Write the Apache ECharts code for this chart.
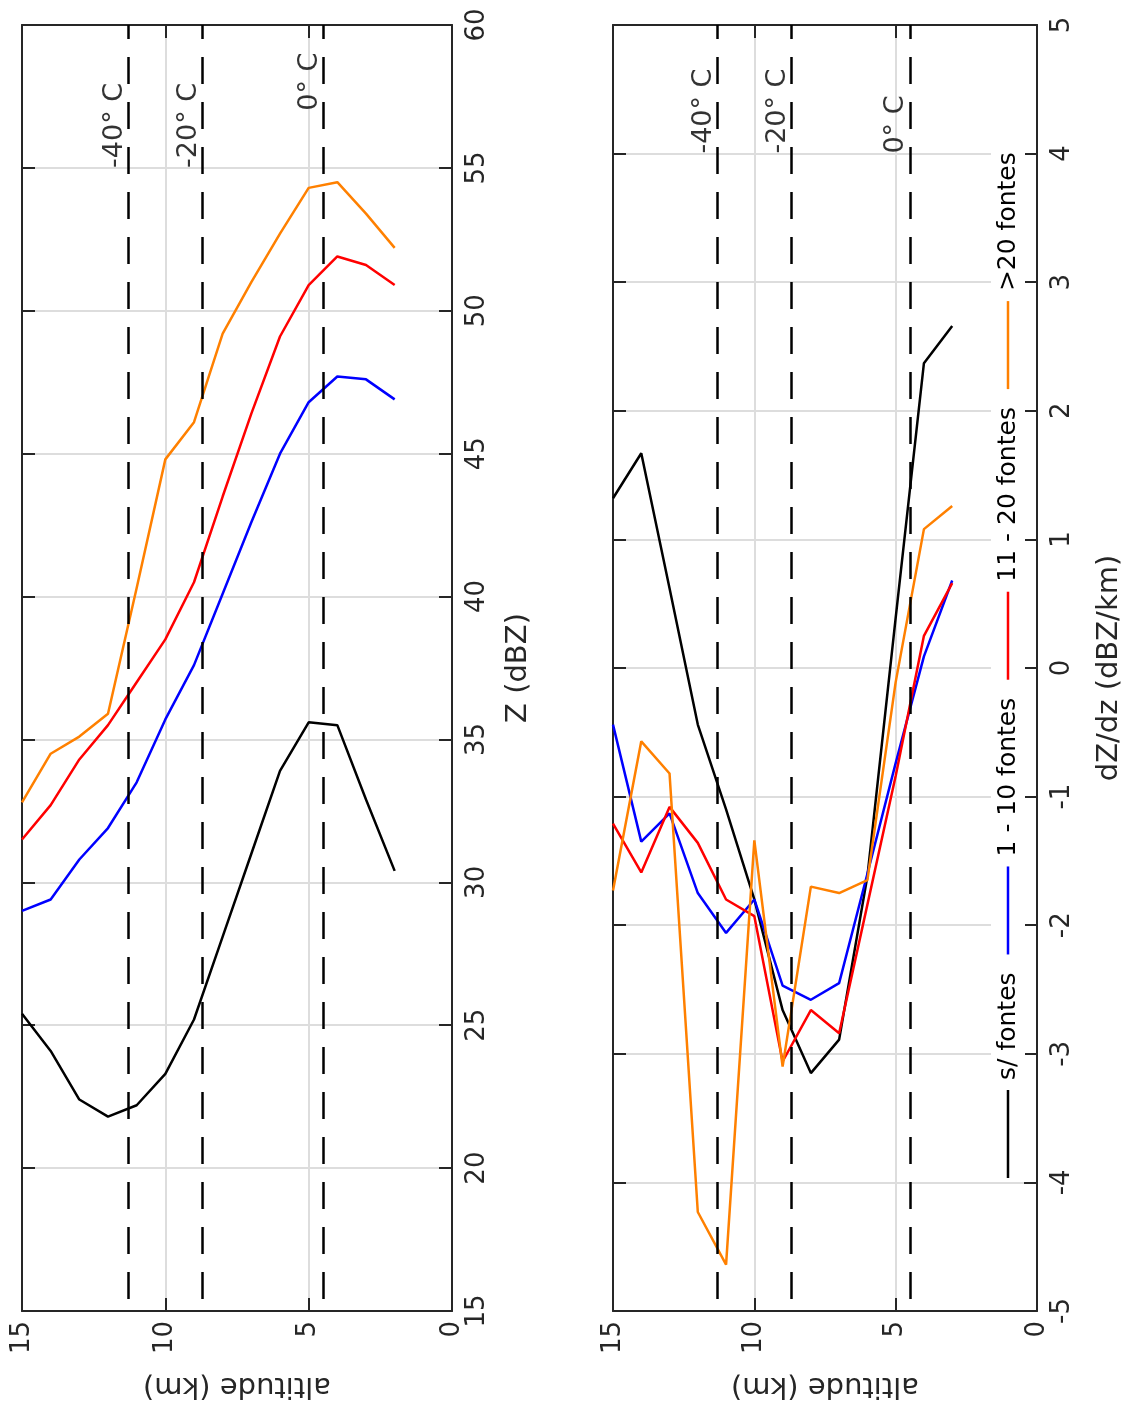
<!DOCTYPE html>
<html>
<head>
<meta charset="utf-8">
<script src="https://cdn.jsdelivr.net/npm/echarts@6/dist/echarts.min.js"></script>
<style>
  html, body { margin: 0; background: #fff; }
  #chart { width: 1125px; height: 1406px; }
</style>
</head>
<body>
<div id="chart"></div>
<script>
// altitudes (km)
var altTop = [15, 14, 13, 12, 11, 10, 9, 8, 7, 6, 5, 4, 3, 2];
var altBottom = [15, 14, 13, 12, 11, 10, 9, 8, 7, 6, 5, 4, 3];

// Z (dBZ) - painel de cima
var zSemFontes = [25.4, 24.1, 22.4, 21.8, 22.2, 23.3, 25.2, 28.1, 31.0, 33.9, 35.6, 35.5, 32.9, 30.4];
var z1a10 = [29.0, 29.4, 30.8, 31.9, 33.5, 35.7, 37.6, 40.1, 42.6, 45.0, 46.8, 47.7, 47.6, 46.9];
var z11a20 = [31.5, 32.7, 34.3, 35.5, 37.0, 38.5, 40.5, 43.5, 46.4, 49.1, 50.9, 51.9, 51.6, 50.9];
var zMais20 = [32.8, 34.5, 35.1, 35.9, 40.3, 44.8, 46.1, 49.2, 51.0, 52.7, 54.3, 54.5, 53.4, 52.2];

// dZ/dz (dBZ/km) - painel de baixo
var dSemFontes = [1.32, 1.67, 0.62, -0.44, -1.10, -1.80, -2.66, -3.15, -2.89, -1.62, 0.39, 2.37, 2.66];
var d1a10 = [-0.44, -1.35, -1.13, -1.75, -2.06, -1.80, -2.47, -2.58, -2.45, -1.60, -0.74, 0.09, 0.68];
var d11a20 = [-1.21, -1.59, -1.08, -1.36, -1.80, -1.93, -3.06, -2.66, -2.84, -1.84, -0.84, 0.25, 0.66];
var dMais20 = [-1.73, -0.57, -0.82, -4.23, -4.64, -1.34, -3.10, -1.70, -1.75, -1.65, -0.11, 1.08, 1.26];

// isotermas
var isoAlt = [11.3, 8.7, 4.5];
var isoNames = ['-40° C', '-20° C', '0° C'];
var isoPosTop = [55, 55, 57];
var isoPosBottom = [4, 4, 4];

var legendNames = ['s/ fontes', '1 - 10 fontes', '11 - 20 fontes', '>20 fontes'];
var colors = ['#000000', '#0000ff', '#ff0000', '#ff8000'];

var axisColor = '#262626';
var font = 'DejaVu Sans';

function pairs(xs, ys) {
  return xs.map(function (x, i) { return [x, ys[i]]; });
}

function altAxis(g, main) {
  return {
    type: 'value', gridIndex: g, min: 0, max: 15, interval: 5, inverse: true,
    position: main ? 'bottom' : 'top',
    axisLine: { show: true, onZero: false, lineStyle: { color: axisColor, width: 2 } },
    axisTick: { show: true, inside: true, length: 13, lineStyle: { color: axisColor, width: 2 } },
    axisLabel: { show: main, rotate: 90, margin: 10, color: axisColor, fontSize: 26, fontFamily: font },
    splitLine: { show: main, lineStyle: { color: '#dddddd', width: 2 } },
    name: main ? 'altitude (km)' : '', nameLocation: 'middle', nameGap: 60, nameRotate: 180,
    nameTextStyle: { color: axisColor, fontSize: 29, fontFamily: font }
  };
}

function valAxis(g, main, min, max, interval, name, gap) {
  return {
    type: 'value', gridIndex: g, min: min, max: max, interval: interval,
    position: main ? 'right' : 'left',
    axisLine: { show: true, onZero: false, lineStyle: { color: axisColor, width: 2 } },
    axisTick: { show: true, inside: true, length: 13, lineStyle: { color: axisColor, width: 2 } },
    axisLabel: { show: main, rotate: 90, margin: 12, color: axisColor, fontSize: 26, fontFamily: font },
    splitLine: { show: main, lineStyle: { color: '#dddddd', width: 2 } },
    name: main ? name : '', nameLocation: 'middle', nameGap: gap, nameRotate: 90,
    nameTextStyle: { color: axisColor, fontSize: 29, fontFamily: font }
  };
}

function curve(name, g, xs, ys, color) {
  return {
    name: name, type: 'line', xAxisIndex: g * 2, yAxisIndex: g * 2,
    data: pairs(xs, ys), showSymbol: false, symbol: 'none',
    lineStyle: { color: color, width: 2.5 }, itemStyle: { color: color }
  };
}

function isotermas(g, pos) {
  return {
    type: 'scatter', xAxisIndex: g * 2, yAxisIndex: g * 2, silent: true,
    symbolSize: 0.1, itemStyle: { color: 'transparent' },
    data: pairs(isoAlt, pos),
    label: {
      show: true, position: 'inside', rotate: 90, align: 'left', verticalAlign: 'bottom',
      color: '#000', fontSize: 27, fontFamily: font,
      formatter: function (p) { return isoNames[p.dataIndex]; }
    },
    markLine: {
      silent: true, symbol: ['none', 'none'], animation: false,
      label: { show: false },
      lineStyle: { color: '#000', width: 2.5, type: [27, 18], dashOffset: -12 },
      data: isoAlt.map(function (a) { return { xAxis: a }; })
    }
  };
}

// legenda girada (texto na vertical), com fundo branco como no matlab
var ctx = document.createElement('canvas').getContext('2d');
ctx.font = '25px "DejaVu Sans"';
var legendItems = [];
var pos = 0;
legendNames.forEach(function (n, i) {
  legendItems.push({ type: 'line', z: 102, shape: { x1: pos, y1: 0, x2: pos + 88, y2: 0 },
    style: { stroke: colors[i], lineWidth: 2.5 } });
  legendItems.push({ type: 'text', z: 102, x: pos + 98, y: 0,
    style: { text: n, fontSize: 25, fontFamily: font, fill: '#000', verticalAlign: 'middle' } });
  pos += 88 + 10 + ctx.measureText(n).width + 18;
});
legendItems.unshift({ type: 'rect', z: 101, shape: { x: -4, y: -17, width: pos - 12, height: 34 },
  style: { fill: '#ffffff' } });

var chart = echarts.init(document.getElementById('chart'));
chart.setOption({
  animation: false,
  backgroundColor: '#fff',
  grid: [
    { left: 22, top: 25, width: 430, height: 1286 },
    { left: 613, top: 25, width: 426, height: 1286 }
  ],
  xAxis: [altAxis(0, true), altAxis(0, false), altAxis(1, true), altAxis(1, false)],
  yAxis: [
    valAxis(0, true, 15, 60, 5, 'Z (dBZ)', 52),
    valAxis(0, false, 15, 60, 5, '', 0),
    valAxis(1, true, -5, 5, 1, 'dZ/dz (dBZ/km)', 58),
    valAxis(1, false, -5, 5, 1, '', 0)
  ],
  graphic: [{ type: 'group', x: 1008, y: 1178, rotation: Math.PI / 2, z: 100, children: legendItems }],
  series: [
    isotermas(0, isoPosTop),
    curve(legendNames[0], 0, altTop, zSemFontes, colors[0]),
    curve(legendNames[1], 0, altTop, z1a10, colors[1]),
    curve(legendNames[2], 0, altTop, z11a20, colors[2]),
    curve(legendNames[3], 0, altTop, zMais20, colors[3]),
    isotermas(1, isoPosBottom),
    curve(legendNames[0], 1, altBottom, dSemFontes, colors[0]),
    curve(legendNames[1], 1, altBottom, d1a10, colors[1]),
    curve(legendNames[2], 1, altBottom, d11a20, colors[2]),
    curve(legendNames[3], 1, altBottom, dMais20, colors[3])
  ]
});
</script>
</body>
</html>
